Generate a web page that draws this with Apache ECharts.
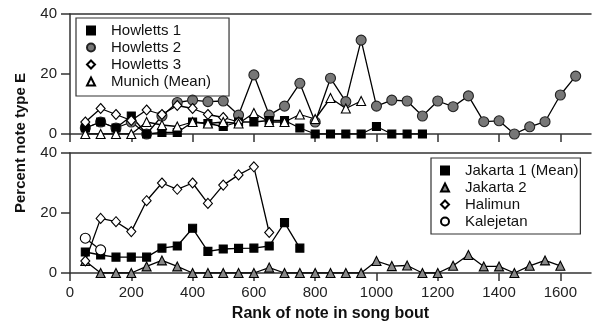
<!DOCTYPE html>
<html>
<head>
<meta charset="utf-8">
<script src="https://cdn.jsdelivr.net/npm/echarts@6/dist/echarts.min.js"></script>
<style>
  html, body { margin: 0; padding: 0; background: #fff; }
  #chart { width: 601px; height: 326px; }
</style>
</head>
<body>
<div id="chart"></div>
<script>
// Rank of note in song bout (x) and percent of note type E (y), per group.
const xTicks = [0, 200, 400, 600, 800, 1000, 1200, 1400, 1600];
const yTicks = [0, 20, 40];

// Upper panel
const howletts1Rank = [50, 100, 150, 200, 250, 300, 350, 400, 450, 500, 550, 600, 650, 700, 750, 800, 850, 900, 950, 1000, 1050, 1100, 1150];
const howletts1Pct  = [2, 4, 2, 6, 0, 0.5, 0.5, 4, 3.5, 2.5, 4, 4, 4.5, 4.5, 2, 0, 0, 0, 0, 2.5, 0, 0, 0];

const howletts2Rank = [50, 100, 150, 200, 250, 300, 350, 400, 450, 500, 550, 600, 650, 700, 750, 800, 850, 900, 950, 1000, 1050, 1100, 1150, 1200, 1250, 1300, 1350, 1400, 1450, 1500, 1550, 1600, 1650];
const howletts2Pct  = [2, 4, 2, 4, 0, 6, 10.5, 11.3, 10.8, 11, 6.3, 19.7, 6.3, 9.3, 16.9, 4, 18.6, 10.8, 31.3, 9.3, 11.3, 11, 6, 11, 9.1, 12.7, 4.1, 4.4, 0, 2.4, 4.1, 13, 19.3];

const howletts3Rank = [50, 100, 150, 200, 250, 300, 350, 400, 450, 500, 550];
const howletts3Pct  = [4, 8.5, 6.5, 4.5, 8, 6.5, 9.5, 8.5, 6.5, 5.5, 4];

const munichRank = [50, 100, 150, 200, 250, 300, 350, 400, 450, 500, 550, 600, 650, 700, 750, 800, 850, 900, 950];
const munichPct  = [0, 0, 0, 0, 4, 3, 2.5, 4, 3.5, 4, 3.5, 7, 4, 4, 6.5, 5, 12, 8.5, 11];

// Lower panel
const jakarta1Rank = [50, 100, 150, 200, 250, 300, 350, 400, 450, 500, 550, 600, 650, 700, 750];
const jakarta1Pct  = [7, 6, 5.3, 5.3, 5.3, 8.3, 9, 14.9, 7.2, 8, 8.2, 8.3, 9, 16.8, 8.3];

const jakarta2Rank = [50, 100, 150, 200, 250, 300, 350, 400, 450, 500, 550, 600, 650, 700, 750, 800, 850, 900, 950, 1000, 1050, 1100, 1150, 1200, 1250, 1300, 1350, 1400, 1450, 1500, 1550, 1600];
const jakarta2Pct  = [4, 0, 0, 0, 2.2, 4.2, 2.2, 0, 0, 0, 0, 0, 1.8, 0, 0, 0, 0, 0, 0, 4, 2.3, 2.5, 0, 0, 2.4, 6, 2.2, 2.2, 0, 2.4, 4.2, 2.4];

const halimunRank = [50, 100, 150, 200, 250, 300, 350, 400, 450, 500, 550, 600, 650];
const halimunPct  = [4, 18.2, 17.1, 13.8, 24.1, 30, 27.9, 30, 23.2, 29.3, 32.7, 35.4, 13.5];

const kalejetanRank = [50, 100];
const kalejetanPct  = [11.6, 7.7];

const FONT = "'Liberation Sans', Arial, Helvetica, sans-serif";
const INK = '#222';

const pairs = (xs, ys) => xs.map((x, i) => [x, ys[i]]);
const plain = v => String(v);

function xAxisPair(gridIndex, withLabels) {
  return [
    {
      type: 'value', gridIndex, position: 'bottom', min: 0, max: 1700,
      axisLine: { show: true, lineStyle: { color: '#333', width: 1.5 } },
      axisTick: { show: true, inside: false, length: 8, customValues: xTicks, lineStyle: { color: '#333', width: 1.5 } },
      axisLabel: { show: withLabels, customValues: xTicks, formatter: plain, margin: 12, color: INK, fontSize: 15, fontFamily: FONT },
      splitLine: { show: false },
      name: withLabels ? 'Rank of note in song bout' : '',
      nameLocation: 'middle', nameGap: 33,
      nameTextStyle: { fontSize: 16, fontWeight: 'bold', color: '#111', fontFamily: FONT }
    },
    {
      type: 'value', gridIndex, position: 'top', min: 0, max: 1700,
      axisLine: { show: true, lineStyle: { color: '#333', width: 1.5 } },
      axisTick: { show: false }, axisLabel: { show: false }, splitLine: { show: false }
    }
  ];
}

function yAxis(gridIndex) {
  return {
    type: 'value', gridIndex, min: 0, max: 40, interval: 20,
    axisLine: { show: true, lineStyle: { color: '#333', width: 1.5 } },
    axisTick: { show: true, inside: false, length: 9, lineStyle: { color: '#333', width: 1.5 } },
    axisLabel: { margin: 13, color: INK, fontSize: 15, fontFamily: FONT, customValues: yTicks, formatter: plain },
    splitLine: { show: false }
  };
}

const line = { color: '#000', width: 1.3 };

function series(name, xs, ys, axisIdx, symbol, size, fill, border) {
  return {
    name, type: 'line', xAxisIndex: axisIdx * 2, yAxisIndex: axisIdx,
    data: pairs(xs, ys), symbol, symbolSize: size, showSymbol: true, showAllSymbol: true,
    lineStyle: line,
    itemStyle: { color: fill, borderColor: border, borderWidth: 1.1, opacity: 1 },
    emphasis: { disabled: true }
  };
}

const legendBase = {
  orient: 'vertical', itemWidth: 8, itemHeight: 8, itemGap: 2,
  borderColor: '#333', borderWidth: 1.2,
  textStyle: { fontSize: 15, color: '#111', fontFamily: FONT, lineHeight: 15, padding: [0, 0, 0, 11] }
};

const chart = echarts.init(document.getElementById('chart'), null, { renderer: 'canvas' });
chart.setOption({
  animation: false,
  backgroundColor: '#fff',
  grid: [
    { left: 70, top: 14, width: 521, height: 120 },
    { left: 70, top: 153, width: 521, height: 120 }
  ],
  xAxis: [...xAxisPair(0, false), ...xAxisPair(1, true)],
  yAxis: [yAxis(0), yAxis(1)],
  legend: [
    Object.assign({}, legendBase, {
      left: 76, top: 18, padding: [5, 18, 7, 10],
      data: [
        { name: 'Howletts 1', icon: 'rect' },
        { name: 'Howletts 2', icon: 'circle' },
        { name: 'Howletts 3', icon: 'diamond' },
        { name: 'Munich (Mean)', icon: 'triangle' }
      ]
    }),
    Object.assign({}, legendBase, {
      left: 431, top: 158, padding: [5, 2, 5, 9],
      data: [
        { name: 'Jakarta 1 (Mean)', icon: 'rect' },
        { name: 'Jakarta 2', icon: 'triangle' },
        { name: 'Halimun', icon: 'diamond' },
        { name: 'Kalejetan', icon: 'circle' }
      ]
    })
  ],
  graphic: [{
    type: 'text', x: 21, y: 143, rotation: Math.PI / 2,
    style: { text: 'Percent note type E', fontSize: 15, fontWeight: 'bold', fill: '#111', fontFamily: FONT, align: 'center', verticalAlign: 'middle' }
  }],
  series: [
    series('Howletts 2', howletts2Rank, howletts2Pct, 0, 'circle', 10, '#777', '#222'),
    series('Howletts 1', howletts1Rank, howletts1Pct, 0, 'rect', 8, '#000', '#000'),
    series('Howletts 3', howletts3Rank, howletts3Pct, 0, 'diamond', [9, 10], '#fff', '#000'),
    series('Munich (Mean)', munichRank, munichPct, 0, 'triangle', 9, '#fff', '#000'),
    series('Jakarta 1 (Mean)', jakarta1Rank, jakarta1Pct, 1, 'rect', 8, '#000', '#000'),
    series('Jakarta 2', jakarta2Rank, jakarta2Pct, 1, 'triangle', 9, '#888', '#000'),
    series('Halimun', halimunRank, halimunPct, 1, 'diamond', [9, 10], '#fff', '#000'),
    series('Kalejetan', kalejetanRank, kalejetanPct, 1, 'circle', 10, '#fff', '#000')
  ]
});
</script>
</body>
</html>
